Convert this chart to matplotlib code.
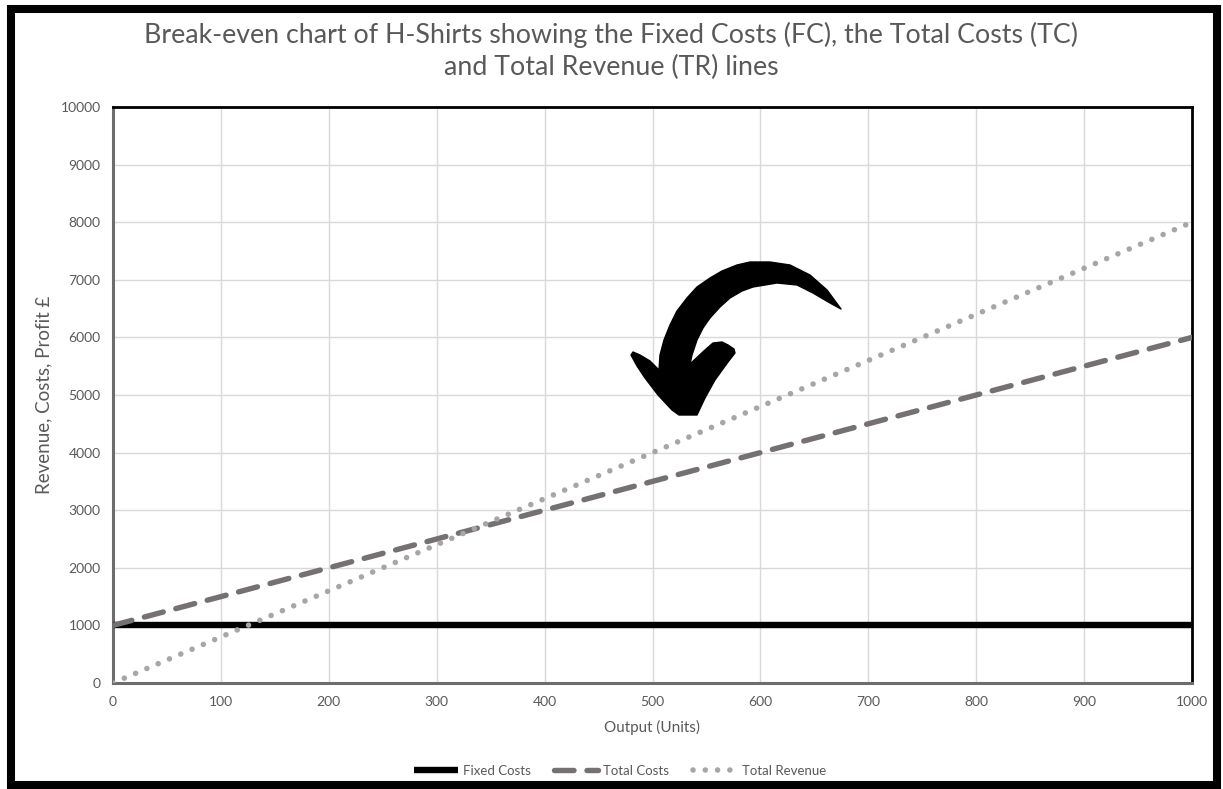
import matplotlib.pyplot as plt
from matplotlib.patches import Polygon, Rectangle

# break-even data for H-Shirts
output_units = [0, 100, 200, 300, 400, 500, 600, 700, 800, 900, 1000]
fixed_costs = [1000, 1000, 1000, 1000, 1000, 1000, 1000, 1000, 1000, 1000, 1000]
total_costs = [1000, 1500, 2000, 2500, 3000, 3500, 4000, 4500, 5000, 5500, 6000]
total_revenue = [0, 800, 1600, 2400, 3200, 4000, 4800, 5600, 6400, 7200, 8000]

title = ("Break-even chart of H-Shirts showing the Fixed Costs (FC), the Total Costs (TC)\n"
         "and Total Revenue (TR) lines")

W, H = 1223, 789
plt.rcParams['font.family'] = ['Lato', 'DejaVu Sans']
TXT = '#595959'

fig = plt.figure(figsize=(W / 100, H / 100), dpi=100)
ax = fig.add_axes([113 / W, 1 - 683 / H, (1192 - 113) / W, (683 - 107) / H])


def px(x, y):
    # pixel position (from top-left) to figure fraction
    return (x / W, 1 - y / H)


ax.plot(output_units, fixed_costs, color='black', lw=4.6, solid_capstyle='butt',
        label='Fixed Costs', zorder=3)
ax.plot(output_units, total_costs, color='#767171', lw=3.9, dashes=(3.6, 2.4),
        dash_capstyle='round', label='Total Costs', zorder=4)
ax.plot(output_units, total_revenue, color='#a6a6a6', lw=4.0, dashes=(0.01, 2.2),
        dash_capstyle='round', label='Total Revenue', zorder=4)

ax.set_xlim(0, 1000)
ax.set_ylim(0, 10000)
ax.set_xticks(range(0, 1001, 100))
ax.set_yticks(range(0, 10001, 1000))
ax.grid(True, color='#d9d9d9', lw=1)
ax.set_axisbelow(True)
ax.tick_params(length=0, labelsize=10, colors=TXT, pad=9)

for side in ('top', 'right'):
    ax.spines[side].set_color('black')
    ax.spines[side].set_linewidth(2)
for side in ('left', 'bottom'):
    ax.spines[side].set_color('#6d6d6d')
    ax.spines[side].set_linewidth(2.2)

ax.set_xlabel('Output (Units)', fontsize=11, color=TXT, labelpad=9)
ax.set_ylabel('Revenue, Costs, Profit £', fontsize=13.5, color=TXT, labelpad=6)

fig.text(0.5, px(0, 51)[1], title, ha='center', va='center', fontsize=19.3,
         color=TXT, linespacing=1.3)

ax.legend(loc='center', bbox_to_anchor=px(620, 771),
          bbox_transform=fig.transFigure, ncol=3, frameon=False, fontsize=9.5,
          labelcolor=TXT, handlelength=3.3, handletextpad=0.4, columnspacing=1.8)

# curved arrow pointing at the break-even point
arrow_pts = [
    # outer edge, tail to head
    (841, 309), (827, 290), (810, 275), (790, 265), (770, 262), (750, 262),
    (737, 265), (722, 271), (710, 278), (697, 287), (687, 298), (677, 311),
    (670, 325), (664, 340), (660, 355), (659, 370),
    # left barb
    (650, 361), (640, 355), (633, 352), (631, 355), (637, 366), (645, 378),
    (658, 395), (672, 410), (679, 415),
    # tip and right barb
    (697, 415), (705, 398), (715, 380), (728, 362), (735, 353), (734, 349),
    (728, 345), (722, 342), (713, 343), (705, 350), (690, 364),
    # inner edge, head back to tail
    (692, 355), (697, 340), (703, 328), (710, 318), (720, 307), (730, 298),
    (742, 291), (753, 287), (777, 283), (797, 285), (813, 293), (830, 303),
]
fig.patches.append(Polygon([px(x, y) for x, y in arrow_pts], closed=True,
                           transform=fig.transFigure, facecolor='black',
                           edgecolor='black', lw=1, joinstyle='round', zorder=10))

# heavy outer frame
fig.patches.append(Rectangle(px(11, 785), (1217 - 11) / W, (785 - 9) / H,
                             transform=fig.transFigure, fill=False,
                             edgecolor='black', lw=5.8, zorder=10))

fig.savefig('out.png', dpi=100)
